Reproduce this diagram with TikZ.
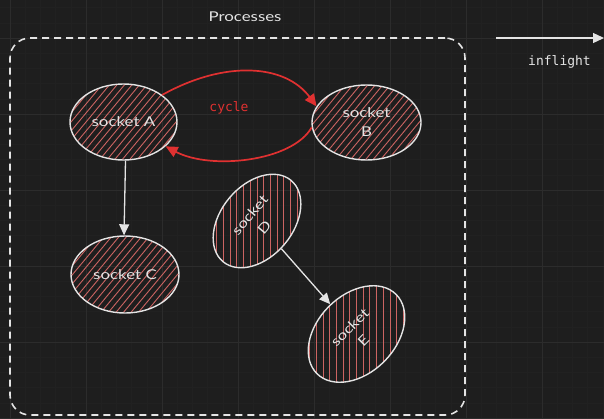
\documentclass[tikz,border=0pt]{standalone}
\usepackage{fontspec}
\setmainfont{Lato}
\newfontfamily\hand[FakeStretch=1.25]{Lato}
\newfontfamily\mono{DejaVu Sans Mono}
\usetikzlibrary{arrows.meta,shapes.geometric}
\definecolor{bgc}{HTML}{1E1E1E}
\definecolor{gridmaj}{HTML}{2C2C2C}
\definecolor{gridmin}{HTML}{212121}
\definecolor{ink}{HTML}{E4E4E4}
\definecolor{hatchc}{HTML}{CC6462}
\definecolor{redc}{HTML}{E03131}
\pgfdeclarelayer{back}
\pgfdeclarelayer{hatch}
\pgfsetlayers{back,hatch,main}
\begin{document}
\begin{tikzpicture}[x=1pt,y=-1pt,
  sock/.style={ellipse, draw=ink, line width=1.4pt, inner sep=0pt, text=ink,
    font=\hand\fontsize{13.5}{19}\selectfont, align=center},
  warrow/.style={draw=ink, line width=1.3pt, -{Triangle[length=11pt,width=10pt]}},
  rarrow/.style={draw=redc, line width=1.7pt, -{Triangle[length=12pt,width=11pt]}},
  hatchline/.style={draw=hatchc, line width=0.9pt},
  lbl/.style={text=ink, inner sep=0pt},
  monotxt/.style={inner sep=0pt, font=\mono\fontsize{13}{15}\selectfont}
]
\useasboundingbox (0,0) rectangle (604,418);
\begin{pgfonlayer}{back}
  \clip (0,0) rectangle (604,418);
  \fill[bgc] (0,0) rectangle (604,418);
  \foreach \i in {0,...,39} \draw[gridmin, line width=0.6pt] ({10+15.2*\i},0) -- ({10+15.2*\i},418);
  \foreach \j in {-2,...,25} \draw[gridmin, line width=0.6pt] (0,{38+15.2*\j}) -- (604,{38+15.2*\j});
  \foreach \i in {0,...,7} \draw[gridmaj, line width=0.8pt] ({10+76*\i},0) -- ({10+76*\i},418);
  \foreach \j in {0,...,5} \draw[gridmaj, line width=0.8pt] (0,{38+76*\j}) -- (604,{38+76*\j});
\end{pgfonlayer}

% container
\node[draw=ink, line width=1.6pt, dash pattern=on 7pt off 5pt, rounded corners=20pt,
      minimum width=455pt, minimum height=377pt, inner sep=0pt] (proc) at (237.5,226.5) {};
\node[lbl, font=\hand\fontsize{13.5}{16}\selectfont] (ptitle) at (245,17) {Processes};

% inflight arrow
\coordinate (fs) at (496,38);
\coordinate (fe) at (604,38);
\draw[warrow] (fs) -- (fe);
\node[lbl, monotxt] (infl) at (559.5,62) {inflight};

% sockets
\node[sock, minimum width=107pt, minimum height=76pt] (A) at (123.5,122) {socket A};
\node[sock, minimum width=109pt, minimum height=75pt] (B) at (366.5,122.5) {socket\\B};
\node[sock, minimum width=108pt, minimum height=77pt] (C) at (125,274.5) {socket C};
\node[sock, rotate=50, minimum width=106pt, minimum height=72pt] (D) at (257,221) {socket\\D};
\node[sock, rotate=45, minimum width=112pt, minimum height=78pt] (E) at (356.5,334) {socket\\E};

% hatching
\begin{pgfonlayer}{hatch}
  \foreach \n/\rx/\ry in {A/53.5/38, B/54.5/37.5, C/54/38.5} {
    \begin{scope}
      \clip (\n.center) ellipse [x radius=\rx pt, y radius=\ry pt];
      \foreach \k in {-112.5,-105,...,112.5}
        \draw[hatchline] ([shift={(\k-50,60)}]\n.center) -- ([shift={(\k+50,-60)}]\n.center);
    \end{scope}
  }
  \foreach \n/\rx/\ry/\ang in {D/53/36/50, E/56/39/45} {
    \begin{scope}
      \clip[rotate around={\ang:(\n.center)}] (\n.center) ellipse [x radius=\rx pt, y radius=\ry pt];
      \foreach \k in {-67,-60.3,...,67}
        \draw[hatchline] ([shift={(\k,-70)}]\n.center) -- ([shift={(\k,70)}]\n.center);
    \end{scope}
  }
\end{pgfonlayer}

% connectors
\draw[warrow] ([xshift=2pt]A.south) -- ([xshift=-1pt]C.north);
\draw[warrow] (D) -- (E);
\draw[rarrow] (A.35) .. controls (225,60) and (285,64) .. (B.162);
\draw[rarrow] (B.185) .. controls (292,162) and (210,170) .. (A.-30);
\node[monotxt, text=redc] (cyc) at (229,108) {cycle};
\end{tikzpicture}
\end{document}
